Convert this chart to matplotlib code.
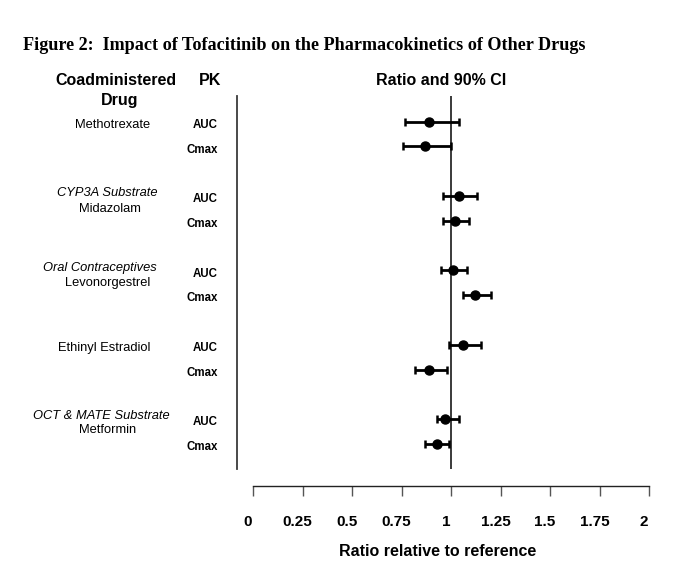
import matplotlib
matplotlib.use("Agg")
import matplotlib.pyplot as plt
import numpy as np
from matplotlib.transforms import ScaledTranslation, blended_transform_factory

plt.rcParams['font.family'] = ['Liberation Sans', 'DejaVu Sans']

# ---- data ----
pk_params = ['AUC', 'Cmax', 'AUC', 'Cmax', 'AUC', 'Cmax', 'AUC', 'Cmax', 'AUC', 'Cmax']
group_index = [0, 0, 1, 1, 2, 2, 3, 3, 4, 4]
ratio = [0.89, 0.87, 1.04, 1.02, 1.01, 1.12, 1.06, 0.89, 0.97, 0.93]
lower = [0.77, 0.76, 0.96, 0.96, 0.95, 1.06, 0.99, 0.82, 0.93, 0.87]
upper = [1.04, 1.00, 1.13, 1.09, 1.08, 1.20, 1.15, 0.98, 1.04, 0.99]
xticks = [0, 0.25, 0.5, 0.75, 1, 1.25, 1.5, 1.75, 2]
xtick_labels = ['0', '0.25', '0.5', '0.75', '1', '1.25', '1.5', '1.75', '2']

W, H = 679, 580
fig = plt.figure(figsize=(W / 100, H / 100), dpi=100)

def fx(x):
    return x / W

def fy(y):
    return 1 - y / H

ax = fig.add_axes([fx(253), fy(469), (649 - 253) / W, (469 - 96) / H])

rows = np.array([g * 3 + (0 if p == 'AUC' else 1) for g, p in zip(group_index, pk_params)], dtype=float)
r = np.array(ratio)
lo = np.array(lower)
hi = np.array(upper)

ax.errorbar(r, rows, xerr=[r - lo, hi - r], fmt='o', color='black', ms=6.5,
            elinewidth=2.0, capsize=3.2, capthick=1.8, zorder=3)
ax.axvline(1, color='#3a3a3a', lw=1.4, zorder=1)
ax.plot([-0.0396, -0.0396], [0, 1], transform=ax.transAxes, color='#3a3a3a', lw=1.3, clip_on=False)

ax.set_xlim(0, 2)
ax.set_ylim(14.01, -1.037)
ax.set_yticks([])
for s in ['top', 'right', 'left']:
    ax.spines[s].set_visible(False)
ax.spines['bottom'].set_position(('outward', 12.3))
ax.spines['bottom'].set_bounds(0, 2)
ax.spines['bottom'].set_color('#222222')
ax.spines['bottom'].set_linewidth(1.0)
ax.set_xticks(xticks)
ax.set_xticklabels(xtick_labels, fontweight='bold', fontsize=11)
ax.tick_params(axis='x', direction='out', length=7.5, width=1.0, color='#555555', pad=13)
shift = ScaledTranslation(-5 / 100, 0, fig.dpi_scale_trans)
for lab in ax.get_xticklabels():
    lab.set_transform(lab.get_transform() + shift)

# PK labels (slightly below row centre)
pk_tr = blended_transform_factory(fig.transFigure, ax.transData)
for rw, p in zip(rows, pk_params):
    ax.text(fx(218), rw + 0.13, p, transform=pk_tr,
            ha='right', va='center', fontsize=8.3, fontweight='bold')

def T(x, y, s, **kw):
    return fig.text(fx(x), fy(y), s, **kw)

title = T(22.7, 45.7, 'Figure 2:  Impact of Tofacitinib on the Pharmacokinetics of Other Drugs',
          ha='left', va='center', fontsize=13.5, fontweight='bold', family=['Liberation Serif', 'DejaVu Serif'])
T(115.8, 80.7, 'Coadministered', ha='center', va='center', fontsize=11.5, fontweight='bold')
T(119.3, 100.7, 'Drug', ha='center', va='center', fontsize=11.5, fontweight='bold')
T(209.7, 80.7, 'PK', ha='center', va='center', fontsize=11.5, fontweight='bold')
T(441.5, 80.7, 'Ratio and 90% CI', ha='center', va='center', fontsize=11.5, fontweight='bold')

dsz = 9.3
T(113, 125, 'Methotrexate', ha='center', va='center', fontsize=dsz)
T(107.3, 192.7, 'CYP3A Substrate', ha='center', va='center', fontsize=dsz, style='italic')
T(110, 209.3, 'Midazolam', ha='center', va='center', fontsize=dsz)
T(100.3, 268.3, 'Oral Contraceptives', ha='center', va='center', fontsize=dsz, style='italic')
T(107.5, 283.3, 'Levonorgestrel', ha='center', va='center', fontsize=dsz)
T(103.7, 348.3, 'Ethinyl Estradiol', ha='center', va='center', fontsize=dsz)
T(101.3, 416, 'OCT & MATE Substrate', ha='center', va='center', fontsize=dsz, style='italic')
T(107.5, 430, 'Metformin', ha='center', va='center', fontsize=dsz)

T(438, 551.7, 'Ratio relative to reference', ha='center', va='center', fontsize=11.5, fontweight='bold')

# fit title width to reference
renderer = fig.canvas.get_renderer()
w = title.get_window_extent(renderer).width
title.set_fontsize(title.get_fontsize() * 560.0 / w)

fig.savefig('out.png', dpi=100)
